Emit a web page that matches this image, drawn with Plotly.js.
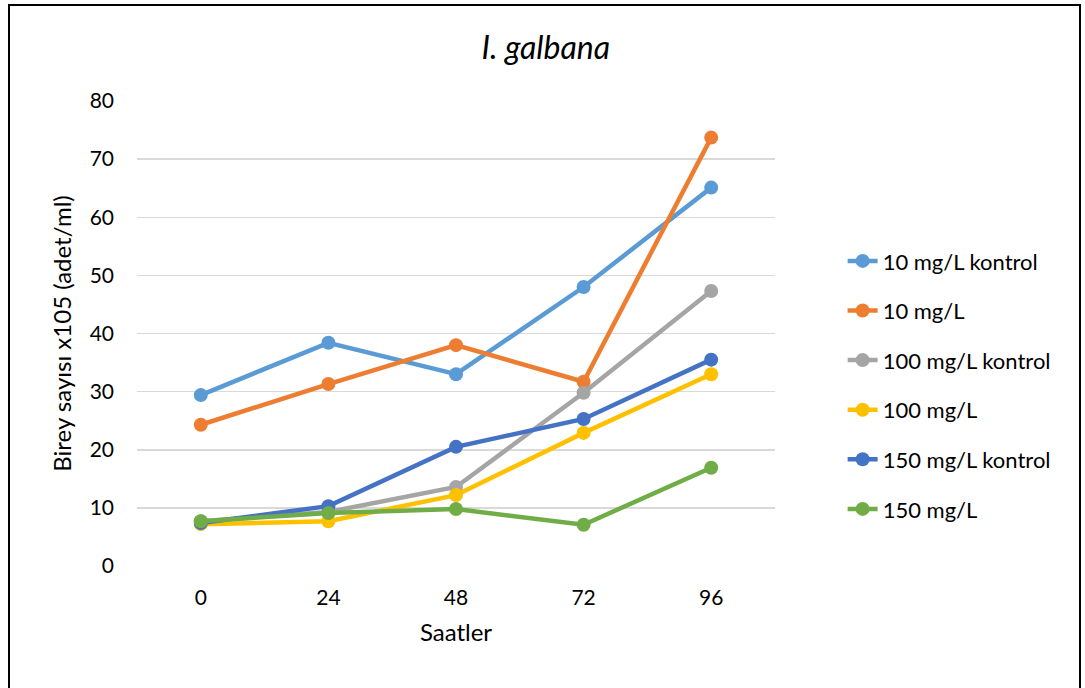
<!DOCTYPE html>
<html>
<head>
<meta charset="utf-8">
<script src="https://cdn.plot.ly/plotly-3.0.1.min.js"></script>
<style>
html,body{margin:0;padding:0;background:#fff;}
#frame{position:absolute;left:8px;top:4px;width:1073px;height:690px;border:2px solid #000;box-sizing:border-box;}
#chart{position:absolute;left:0;top:0;width:1085px;height:688px;}
</style>
</head>
<body>
<div id="chart"></div>
<div id="frame"></div>
<script>
const hours = ['0', '24', '48', '72', '96'];
const seriesNames = ['10 mg/L kontrol', '10 mg/L', '100 mg/L kontrol', '100 mg/L', '150 mg/L kontrol', '150 mg/L'];
const s10k   = [29.4, 38.4, 33.0, 48.0, 65.1];
const s10    = [24.3, 31.3, 38.0, 31.7, 73.7];
const s100k  = [7.7, 9.3, 13.6, 29.8, 47.3];
const s100   = [7.2, 7.7, 12.2, 22.9, 33.0];
const s150k  = [7.4, 10.3, 20.5, 25.3, 35.5];
const s150   = [7.7, 9.1, 9.8, 7.1, 16.9];
const seriesValues = [s10k, s10, s100k, s100, s150k, s150];
const colors = ['#5B9BD5', '#ED7D31', '#A5A5A5', '#FFC000', '#4472C4', '#70AD47'];

const font = 'Lato, "Open Sans", "Liberation Sans", sans-serif';

const traces = seriesValues.map((v, i) => ({
  type: 'scatter',
  mode: 'lines+markers',
  x: hours,
  y: v,
  name: seriesNames[i],
  legendgroup: 'g' + i,
  line: {color: colors[i], width: 4.5},
  marker: {color: colors[i], size: 14},
  cliponaxis: false
}));

const layout = {
  width: 1085,
  height: 688,
  margin: {l: 137, r: 310, t: 101, b: 122},
  paper_bgcolor: '#ffffff',
  plot_bgcolor: '#ffffff',
  font: {family: font, size: 18, color: '#000'},
  title: {text: '<i>I. galbana</i>', x: 0.503, xref: 'container', xanchor: 'center', y: 0.931, yanchor: 'middle', font: {family: font, size: 32, color: '#000'}},
  xaxis: {
    type: 'category',
    range: [-0.5, 4.5],
    title: {text: 'Saatler', font: {family: font, size: 24, color: '#000'}, standoff: 16},
    showgrid: false,
    showline: false,
    zeroline: false,
    ticks: '',
    ticklabelstandoff: 17,
    tickfont: {family: font, size: 21, color: '#000'},
    fixedrange: true
  },
  yaxis: {
    range: [0, 80],
    dtick: 10,
    tick0: 0,
    title: {text: 'Birey sayısı x105 (adet/ml)', font: {family: font, size: 24, color: '#000'}, standoff: 11},
    showgrid: true,
    gridcolor: '#D9D9D9',
    gridwidth: 1.5,
    zeroline: false,
    showline: false,
    ticks: '',
    ticklabelstandoff: 22,
    tickfont: {family: font, size: 21, color: '#000'},
    fixedrange: true
  },
  showlegend: true,
  legend: {
    x: 1.106,
    xanchor: 'left',
    y: 0.389,
    yanchor: 'middle',
    traceorder: 'grouped',
    tracegroupgap: 18,
    font: {family: font, size: 22, color: '#000'},
    bgcolor: 'rgba(0,0,0,0)',
    itemwidth: 30
  }
};

Plotly.newPlot('chart', traces, layout, {displayModeBar: false, staticPlot: true});
</script>
</body>
</html>
